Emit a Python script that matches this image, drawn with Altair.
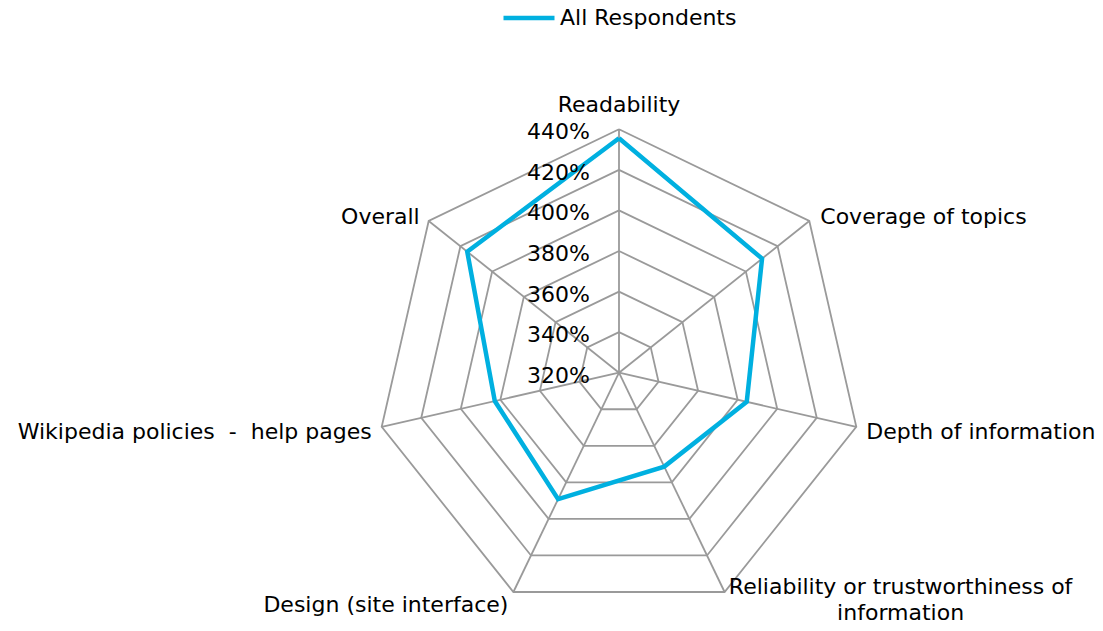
import altair as alt
import pandas as pd

# ---------------- data ----------------
categories = ["Readability", "Coverage of topics", "Depth of information",
              "Reliability or trustworthiness of information", "Design (site interface)",
              "Wikipedia policies  -  help pages", "Overall"]
display_labels = ["Readability", "Coverage of topics", "Depth of information",
                  "Reliability or trustworthiness of\ninformation", "Design (site interface)",
                  "Wikipedia policies \u00a0-\u00a0 help pages", "Overall"]
values = [435.6, 410.2, 384.6, 371.4, 389.2, 382.8, 415.7]
tick_values = [320, 340, 360, 380, 400, 420, 440]
series_name = "All Respondents"

# ---------------- layout constants ----------------
N = len(categories)
VMIN, VMAX = tick_values[0], tick_values[-1]
FONT = "DejaVu Sans"
FS = 22
PAD_TOP = 14
W, H = 1087, 599
CX_PAGE, CY_PAGE, R_PX = 619.0, 372.7, 243.4
k = R_PX / (VMAX - VMIN)
cx = CX_PAGE - 8
cy = CY_PAGE - 8 - PAD_TOP
xdom = [-cx / k, (W - cx) / k]
ydom = [-(H - cy) / k, cy / k]

xs = alt.Scale(domain=xdom, nice=False, zero=False)
ys = alt.Scale(domain=ydom, nice=False, zero=False)

ang = f"datum.idx * 2 * PI / {N}"
calc = dict(
    x=f"(datum.value - {VMIN}) * sin({ang})",
    y=f"(datum.value - {VMIN}) * cos({ang})",
)

# series (closed polygon)
series_df = pd.DataFrame({
    "idx": list(range(N + 1)),
    "category": categories + [categories[0]],
    "value": values + [values[0]],
    "series": [series_name] * (N + 1),
})

# grid rings
ring_rows = []
for t in tick_values[1:]:
    for i in range(N + 1):
        ring_rows.append({"ring": t, "idx": i, "value": t})
ring_df = pd.DataFrame(ring_rows)

# spokes
spoke_df = pd.DataFrame({"idx": list(range(N)), "value": [VMAX] * N})

# tick labels
tick_df = pd.DataFrame({"value": tick_values, "label": [f"{v}%" for v in tick_values]})

# category labels
label_df = pd.DataFrame({"idx": list(range(N)), "label": display_labels, "value": [VMAX] * N})

GRID = "#9a9a9a"

rings = alt.Chart(ring_df).transform_calculate(**calc).mark_line(
    stroke=GRID, strokeWidth=1.8).encode(
    x=alt.X("x:Q", scale=xs, axis=None),
    y=alt.Y("y:Q", scale=ys, axis=None),
    detail="ring:N",
    order="idx:Q",
)

spokes = alt.Chart(spoke_df).transform_calculate(**calc, x0="0", y0="0").mark_rule(
    stroke=GRID, strokeWidth=1.8).encode(
    x=alt.X("x0:Q", scale=xs, axis=None),
    y=alt.Y("y0:Q", scale=ys, axis=None),
    x2="x:Q",
    y2="y:Q",
)

line = alt.Chart(series_df).transform_calculate(**calc).mark_line(
    strokeWidth=4.5, strokeJoin="miter").encode(
    x=alt.X("x:Q", scale=xs, axis=None),
    y=alt.Y("y:Q", scale=ys, axis=None),
    order="idx:Q",
    color=alt.Color("series:N",
                    scale=alt.Scale(domain=[series_name], range=["#00b0e0"]),
                    legend=alt.Legend(orient="none", legendX=493, legendY=-32,
                                      title=None, symbolType="stroke", symbolSize=2601,
                                      symbolStrokeWidth=4.5, labelFontSize=FS,
                                      labelFont=FONT, labelColor="#000000",
                                      labelOffset=3, labelLimit=0, padding=0)),
)

ticks = alt.Chart(tick_df).transform_calculate(x="0", y=f"datum.value - {VMIN}").mark_text(
    align="right", baseline="middle", dx=-29, dy=3, font=FONT, fontSize=FS, color="#000000").encode(
    x=alt.X("x:Q", scale=xs, axis=None),
    y=alt.Y("y:Q", scale=ys, axis=None),
    text="label:N",
)


def label_layer(indices, align, baseline, dx, dy, lineHeight=None):
    kw = dict(align=align, baseline=baseline, dx=dx, dy=dy, font=FONT, fontSize=FS,
              color="#000000", lineBreak="\n")
    if lineHeight:
        kw["lineHeight"] = lineHeight
    return alt.Chart(label_df).transform_filter(
        alt.FieldOneOfPredicate(field="idx", oneOf=indices)
    ).transform_calculate(**calc).mark_text(**kw).encode(
        x=alt.X("x:Q", scale=xs, axis=None),
        y=alt.Y("y:Q", scale=ys, axis=None),
        text="label:N",
    )


labels = [
    label_layer([0], "center", "middle", 0, -24),
    label_layer([1], "left", "middle", 11, -4),
    label_layer([2], "left", "middle", 10, 5),
    label_layer([3], "center", "top", 176, -15, lineHeight=26),
    label_layer([4], "right", "middle", -5, 13),
    label_layer([5], "right", "middle", -10, 5),
    label_layer([6], "right", "middle", -9, -4),
]

chart = alt.layer(rings, spokes, line, ticks, *labels).properties(
    width=W, height=H,
    padding={"top": PAD_TOP, "left": 0, "right": 0, "bottom": 0},
    autosize=alt.AutoSizeParams(type="none"),
).configure_view(stroke=None)

chart.save("out.html", embed_options={"renderer": "svg", "actions": False})
